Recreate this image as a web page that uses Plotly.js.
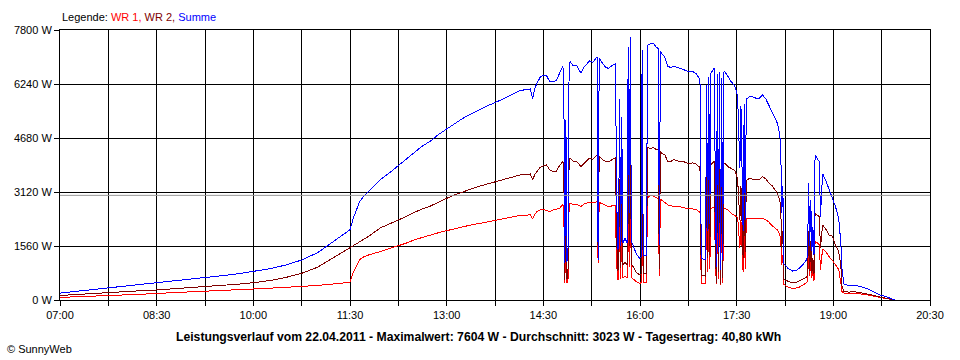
<!DOCTYPE html>
<html>
<head>
<meta charset="utf-8">
<script src="https://cdn.plot.ly/plotly-3.0.1.min.js"></script>
<style>html,body{margin:0;padding:0;background:#fff;}#chart{width:960px;height:360px;}
#chart .scatterlayer path{shape-rendering:crispEdges;}</style>
</head>
<body>
<div id="chart"></div>
<script>
// ---- data ----
const day = "2011-04-22";
const times = [
 "07:00","07:15","07:30","07:45","08:00","08:15","08:30","08:45","09:00","09:15","09:30","09:45","10:00","10:15","10:30","10:45","11:00","11:15","11:30",
 "11:33","11:36","11:39","11:42","11:48","11:58","12:07","12:15","12:23","12:30","12:37","12:45","12:52","13:00","13:07","13:15","13:23","13:31","13:39","13:47","13:55","14:02","14:08","14:14","14:18","14:20","14:22","14:24","14:27","14:30",
 "14:33","14:36","14:39","14:42","14:45","14:48","14:49","14:50","14:51","14:52","14:53","14:54","14:55","14:58","15:01","15:05","15:08","15:10","15:13","15:16","15:19","15:20","15:21","15:22","15:25","15:28","15:31","15:34","15:37",
 "15:38","15:39","15:40","15:41","15:42","15:43","15:44","15:46","15:48","15:49","15:50","15:51","15:52","15:54","15:57","16:00","16:01","16:02","16:03","16:06","16:07","16:10","16:13","16:15","16:17","16:18","16:19","16:20","16:23","16:26",
 "16:29","16:31","16:34","16:37","16:41","16:45","16:49","16:52","16:55","16:56","16:57","16:59","17:01","17:02","17:03","17:04","17:05","17:06","17:09","17:11","17:12","17:13","17:14","17:15","17:16","17:17","17:18","17:19","17:22","17:25","17:28","17:30","17:31","17:33","17:34","17:36","17:37","17:38","17:39",
 "17:42","17:45","17:48","17:51","17:54","17:57","18:00","18:03","18:06","18:08","18:10","18:11","18:12","18:13","18:14","18:15","18:18","18:22","18:25","18:29","18:32","18:35","18:36","18:37","18:38","18:39","18:40","18:41","18:42","18:43","18:45","18:47","18:48",
 "18:50","18:53","18:56","18:59","19:02","19:05","19:07","19:08","19:10","19:14","19:20","19:25","19:31","19:37","19:43","19:48","19:52","19:57"
];
const wr1 = [
 75,90,105,116,140,165,190,215,238,260,280,300,318,340,360,385,420,465,510,
 800,1000,1170,1235,1310,1396,1480,1569,1650,1740,1810,1878,1940,2003,2060,2118,2170,2215,2265,2311,2360,2407,2440,2455,2456,2340,2480,2551,2600,2620,
 2580,2552,2600,2620,2648,2745,2700,480,2000,500,600,2750,2793,2760,2770,2700,2780,2800,2810,2800,2830,2841,1060,2820,2780,2720,2696,2720,2720,
 1350,600,600,2300,620,2100,640,680,650,2900,950,3000,650,600,520,481,500,2850,520,510,2950,3033,3000,2960,2930,700,2900,2889,2820,2745,
 2720,2700,2710,2700,2660,2648,2640,2620,2552,2500,480,480,470,2550,800,2600,900,2650,2680,450,2640,600,2650,420,2600,500,2640,2648,2600,2500,2450,2407,2350,1500,2300,800,2300,900,2350,
 2360,2370,2360,2350,2360,2320,2250,2150,2070,2022,1900,1782,1000,1300,450,433,366,337,340,380,433,500,560,1350,700,1200,650,900,550,1685,1650,1589,867,
 1480,1400,1252,1150,1011,880,500,250,193,193,185,175,150,110,75,45,25,0
];
const wr2 = [
 130,160,190,222,245,268,290,320,352,385,420,455,500,560,650,770,950,1230,1520,
 1560,1610,1670,1730,1850,2080,2200,2311,2420,2530,2630,2716,2830,2937,3030,3130,3210,3293,3360,3418,3480,3544,3610,3635,3640,3467,3620,3707,3830,3880,
 3900,3756,3707,3720,3880,3996,3950,580,3200,600,900,4050,4093,4000,4010,3850,3950,4000,4100,4060,4180,4189,1300,4160,4060,4000,3990,4060,4100,
 2020,850,900,3500,930,3200,1000,1100,1000,4400,1550,4604,1050,940,780,723,750,4370,780,770,4400,4382,4400,4340,4340,900,4300,4241,4200,3996,
 4000,4060,4020,4000,3990,3948,3960,3930,3852,3708,720,700,690,3660,1200,3850,1300,3900,4010,500,3900,800,3950,450,3800,650,3940,3950,3850,3800,3750,3611,3419,2300,3300,1200,3350,1400,3450,
 3515,3500,3470,3480,3563,3500,3380,3300,3180,3080,2900,2700,1500,2000,600,578,540,500,500,560,600,660,730,2000,850,1700,780,1200,750,2504,2456,2400,1500,
 2170,2050,1878,1850,1589,1400,1000,400,241,230,235,215,185,140,90,60,30,0
];
const summe = [
 200,250,295,338,385,433,480,535,590,645,700,755,818,900,1010,1155,1370,1695,2030,
 2360,2610,2840,2965,3160,3476,3680,3880,4070,4270,4440,4594,4770,4940,5090,5248,5380,5508,5625,5729,5840,5951,6050,6090,6096,5807,6100,6258,6430,6500,
 6480,6308,6300,6340,6530,6740,6650,1060,5200,1100,1500,6800,6886,6760,6780,6550,6730,6800,6910,6860,7010,7030,1150,6980,6840,6720,6690,6780,6820,
 3370,1450,1500,5800,1550,5300,1640,1780,1650,7300,2500,7604,1700,1540,1300,1204,1250,7220,1300,1280,7350,7415,7400,7300,7270,1600,7200,7130,7020,6741,
 6720,6760,6730,6700,6650,6596,6600,6550,6404,6208,1200,1180,1160,6210,2000,6450,2200,6550,6690,950,6540,1400,6600,870,6400,1150,6580,6598,6450,6300,6200,6018,5770,3800,5600,2000,5650,2300,5800,
 5875,5870,5830,5830,5923,5820,5630,5450,5250,5100,4800,4480,2500,3300,1050,1011,906,837,840,940,1033,1160,1290,3370,1550,2900,1430,2100,1300,4189,4106,3990,2400,
 3650,3450,3200,3000,2700,2350,1650,900,460,420,420,390,335,250,150,110,55,0
];
const yTicks = [0, 1560, 3120, 4680, 6240, 7800];
const xStart = "07:00", xEnd = "20:30";
const average = 3023;
const seriesNames = ["WR 1", "WR 2", "Summe"];
const seriesColors = ["#ff0000", "#800000", "#0000ff"];
const titleText = "Leistungsverlauf vom 22.04.2011 - Maximalwert: 7604 W - Durchschnitt: 3023 W - Tagesertrag: 40,80 kWh";

// ---- build ----
const xs = times.map(t => day + " " + t);
function tr(y, i) {
  return {x: xs, y: y, type: "scatter", mode: "lines", name: seriesNames[i],
          line: {color: seriesColors[i], width: 1}, hoverinfo: "skip"};
}
// drawing order as in the reference: WR 1, then WR 2, Summe on top
const traces = [tr(wr1, 0), tr(wr2, 1), tr(summe, 2)];

const fontFam = "'Liberation Sans', Arial, sans-serif";
const legendHtml = 'Legende: ' + seriesNames.map((n, i) =>
  '<span style="color:' + seriesColors[i] + '">' + n + (i < 2 ? ', ' : '') + '</span>').join('');

const layout = {
  width: 960, height: 360,
  margin: {l: 60, r: 30, t: 30, b: 60},
  paper_bgcolor: "#ffffff", plot_bgcolor: "#ffffff",
  font: {family: fontFam, size: 11, color: "#000"},
  showlegend: false,
  xaxis: {
    type: "date", range: [day + " " + xStart, day + " " + xEnd],
    tickmode: "linear", tick0: day + " " + xStart, dtick: 5400000, tickformat: "%H:%M",
    showgrid: true, gridcolor: "#000", gridwidth: 1,
    ticks: "outside", ticklen: 5, tickcolor: "#000", tickwidth: 1,
    showline: true, linecolor: "#000", linewidth: 1, mirror: true, zeroline: false,
    minor: {tick0: day + " " + xStart, dtick: 2700000, showgrid: true, gridcolor: "#000", gridwidth: 1,
            ticks: "outside", ticklen: 5, tickcolor: "#000", tickwidth: 1},
    tickfont: {family: fontFam, size: 11, color: "#000"}
  },
  yaxis: {
    range: [0, 7800], tickmode: "array", tickvals: yTicks, ticktext: yTicks.map(v => v + " W"),
    showgrid: true, gridcolor: "#000", gridwidth: 1,
    ticks: "outside", ticklen: 5, tickcolor: "#000", tickwidth: 1,
    showline: true, linecolor: "#000", linewidth: 1, mirror: true, zeroline: false,
    tickfont: {family: fontFam, size: 11, color: "#000"}
  },
  shapes: [{type: "line", xref: "paper", x0: 0, x1: 1, yref: "y", y0: average, y1: average,
            line: {color: "#9a9a9a", width: 1}, layer: "above"}],
  annotations: [
    {xref: "paper", yref: "paper", x: 0, y: 1.048, xanchor: "left", yanchor: "middle",
     text: legendHtml, showarrow: false, font: {family: fontFam, size: 11, color: "#000"}},
    {xref: "paper", yref: "paper", x: 0.4816, y: -0.137, xanchor: "center", yanchor: "middle",
     text: "<b>" + titleText + "</b>", showarrow: false, font: {family: fontFam, size: 12.2, color: "#000"}},
    {xref: "paper", yref: "paper", x: -0.0632, y: -0.1815, xanchor: "left", yanchor: "middle",
     text: "© SunnyWeb", showarrow: false, font: {family: fontFam, size: 11, color: "#000"}}
  ]
};
Plotly.newPlot("chart", traces, layout, {staticPlot: true, displayModeBar: false});
</script>
</body>
</html>
